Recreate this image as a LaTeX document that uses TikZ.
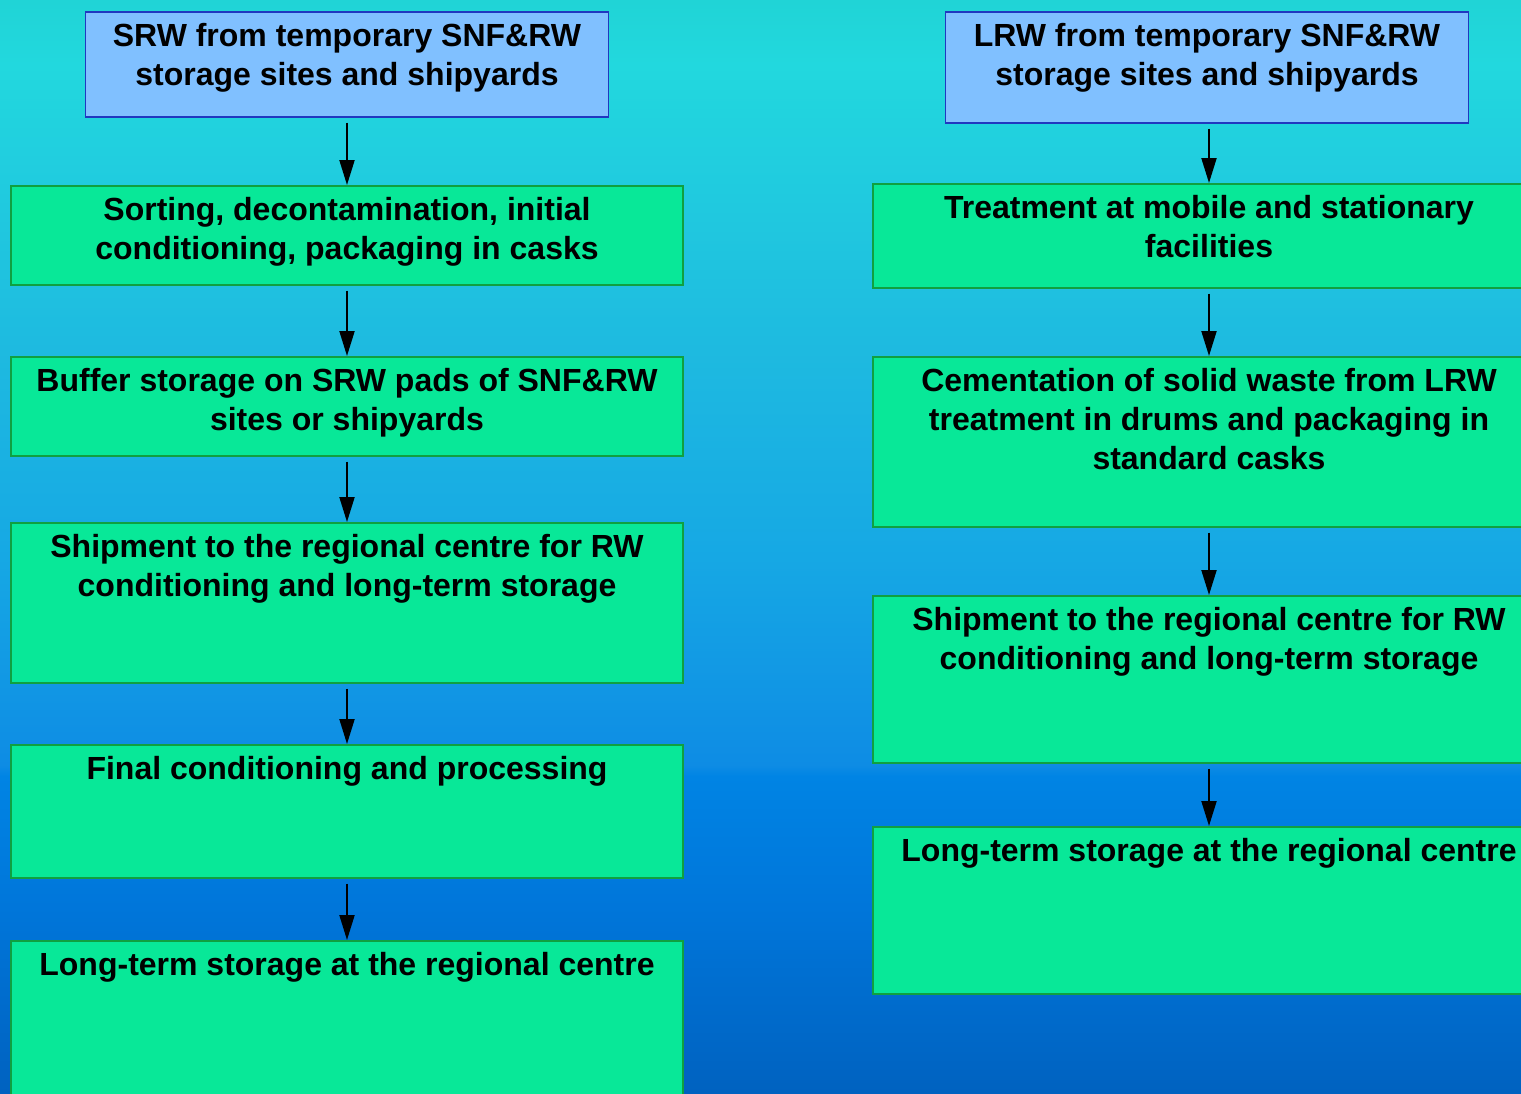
\documentclass[tikz,border=0pt]{standalone}
\usepackage{fontspec}
\setmainfont{Liberation Sans}
\usetikzlibrary{arrows.meta}

\definecolor{skyA}{RGB}{32,212,214}
\definecolor{skyB}{RGB}{34,216,222}
\definecolor{skyC}{RGB}{30,186,224}
\definecolor{skyD}{RGB}{22,168,228}
\definecolor{skyE}{RGB}{14,140,228}
\definecolor{skyF}{RGB}{0,132,228}
\definecolor{skyG}{RGB}{0,118,218}
\definecolor{skyH}{RGB}{0,98,192}
\definecolor{srcfill}{RGB}{128,192,255}
\definecolor{srcline}{RGB}{32,56,192}
\definecolor{stagefill}{RGB}{8,232,152}
\definecolor{stageline}{RGB}{16,160,64}

% background sky, stops between 25bp (bottom) and 75bp (top)
\pgfdeclareverticalshading{sky}{100bp}{color(0bp)=(skyH); color(25bp)=(skyH);
  color(33.5bp)=(skyG); color(39.5bp)=(skyF); color(40bp)=(skyE);
  color(49.5bp)=(skyD); color(59bp)=(skyC); color(72bp)=(skyB);
  color(75bp)=(skyA); color(100bp)=(skyA)}

\tikzset{
  source/.style={draw=srcline, fill=srcfill, line width=1.5pt, minimum width=523pt, minimum height=#1, anchor=north, inner sep=0pt},
  stage/.style={draw=stageline, fill=stagefill, line width=1.5pt, minimum width=672pt, minimum height=#1, anchor=north, inner sep=0pt},
  caption/.style={anchor=north, align=center, inner sep=0pt, font=\bfseries\fontsize{32}{39}\selectfont},
  flow/.style={line width=2pt, -{Triangle[length=25pt, width=15pt]}, shorten <=5pt}
}

\begin{document}
\begin{tikzpicture}[x=1pt, y=-1pt]
    \useasboundingbox (0,0) rectangle (1521,1093);
    \shade[shading=sky] (0,0) rectangle (1521,1093);

    % SRW column
    \node[source=105pt] (srw0) at (347,11){};
    \node[stage=99pt] (srw1) at (347,185){};
    \node[stage=99pt] (srw2) at (347,356){};
    \node[stage=160pt] (srw3) at (347,522){};
    \node[stage=133pt] (srw4) at (347,744){};
    \node[stage=175pt] (srw5) at (347,940){};

    \node[caption] (srw0t) at ([yshift=-12pt]srw0.north){SRW from temporary SNF\&RW\\storage sites and shipyards};
    \node[caption] (srw1t) at ([yshift=-12pt]srw1.north){Sorting, decontamination, initial\\conditioning, packaging in casks};
    \node[caption] (srw2t) at ([yshift=-12pt]srw2.north){Buffer storage on SRW pads of SNF\&RW\\sites or shipyards};
    \node[caption] (srw3t) at ([yshift=-12pt]srw3.north){Shipment to the regional centre for RW\\conditioning and long-term storage};
    \node[caption] (srw4t) at ([yshift=-12pt]srw4.north){Final conditioning and processing};
    \node[caption] (srw5t) at ([yshift=-12pt]srw5.north){Long-term storage at the regional centre};

    \draw[flow] (srw0.south) -- (srw1.north);
    \draw[flow] (srw1.south) -- (srw2.north);
    \draw[flow] (srw2.south) -- (srw3.north);
    \draw[flow] (srw3.south) -- (srw4.north);
    \draw[flow] (srw4.south) -- (srw5.north);

    % LRW column
    \node[source=111pt] (lrw0) at (1207,11){};
    \node[stage=104pt] (lrw1) at (1209,183){};
    \node[stage=170pt] (lrw2) at (1209,356){};
    \node[stage=167pt] (lrw3) at (1209,595){};
    \node[stage=167pt] (lrw4) at (1209,826){};

    \node[caption] (lrw0t) at ([yshift=-12pt]lrw0.north){LRW from temporary SNF\&RW\\storage sites and shipyards};
    \node[caption] (lrw1t) at ([yshift=-12pt]lrw1.north){Treatment at mobile and stationary\\facilities};
    \node[caption] (lrw2t) at ([yshift=-12pt]lrw2.north){Cementation of solid waste from LRW\\treatment in drums and packaging in\\standard casks};
    \node[caption] (lrw3t) at ([yshift=-12pt]lrw3.north){Shipment to the regional centre for RW\\conditioning and long-term storage};
    \node[caption] (lrw4t) at ([yshift=-12pt]lrw4.north){Long-term storage at the regional centre};

    \draw[flow] (lrw1.north |- lrw0.south) -- (lrw1.north);
    \draw[flow] (lrw1.south) -- (lrw2.north);
    \draw[flow] (lrw2.south) -- (lrw3.north);
    \draw[flow] (lrw3.south) -- (lrw4.north);
\end{tikzpicture}
\end{document}
